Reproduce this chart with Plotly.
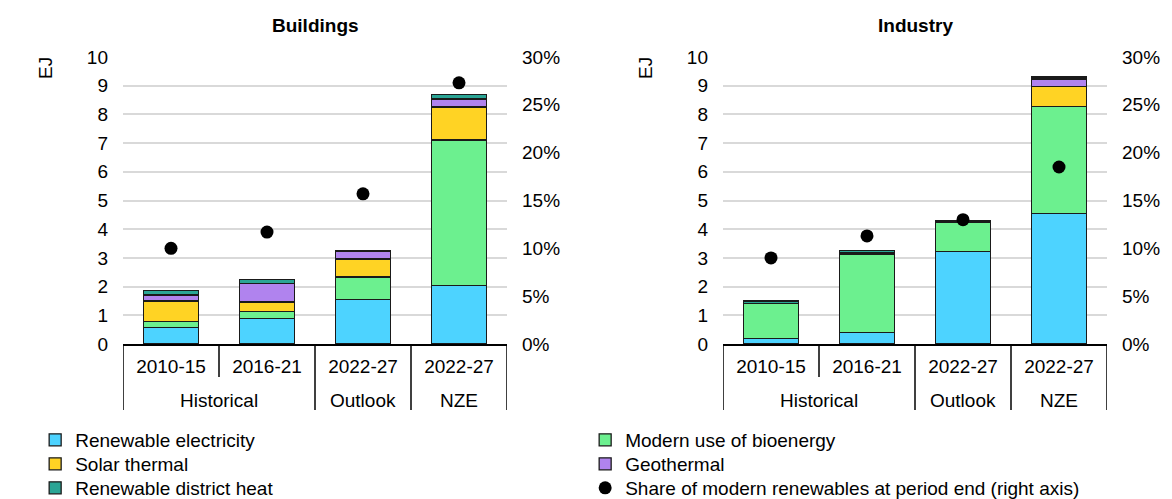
import plotly.graph_objects as go

# Period labels (inner level) and scenario groups (outer level)
periods = ["2010-15", "2016-21", "2022-27", "2022-27"]
groups = ["Historical", "Historical", "Outlook", "NZE"]

# Buildings, EJ added over each period
buildings_elec = [0.58, 0.90, 1.54, 2.05]
buildings_bio = [0.21, 0.23, 0.79, 5.06]
buildings_solar = [0.71, 0.33, 0.63, 1.15]
buildings_geo = [0.21, 0.65, 0.28, 0.28]
buildings_dh = [0.15, 0.14, 0.03, 0.15]
buildings_share = [0.100, 0.117, 0.157, 0.273]

# Industry, EJ added over each period
industry_elec = [0.19, 0.40, 3.22, 4.55]
industry_bio = [1.21, 2.74, 1.03, 3.72]
industry_solar = [0.00, 0.01, 0.02, 0.71]
industry_geo = [0.02, 0.02, 0.02, 0.25]
industry_dh = [0.08, 0.08, 0.02, 0.07]
industry_share = [0.090, 0.113, 0.130, 0.185]

series_names = [
    "Renewable electricity",
    "Modern use of bioenergy",
    "Solar thermal",
    "Geothermal",
    "Renewable district heat",
]
series_colors = ["#4dd3ff", "#6cf08f", "#ffd324", "#b083ee", "#2aa595"]
share_name = "Share of modern renewables at period end (right axis)"

# legend rows: two entries per row, in reading order
legend_of = {
    series_names[0]: "legend", series_names[1]: "legend",
    series_names[2]: "legend2", series_names[3]: "legend2",
    series_names[4]: "legend3", share_name: "legend3",
}

FONT = "Liberation Sans, Arial, sans-serif"
FS = 19
W, H = 1172, 499

idx = list(range(len(periods)))


def py(px):
    """pixel row (from top) -> paper fraction"""
    return 1 - px / H


fig = go.Figure()

panels = [
    ("x", "y", "y2", [buildings_elec, buildings_bio, buildings_solar, buildings_geo, buildings_dh], buildings_share, True),
    ("x2", "y3", "y4", [industry_elec, industry_bio, industry_solar, industry_geo, industry_dh], industry_share, False),
]

for xa, ya, ya_right, stacks, share, show in panels:
    for name, color, vals in zip(series_names, series_colors, stacks):
        fig.add_trace(go.Bar(
            x=idx, y=vals, name=name, xaxis=xa, yaxis=ya,
            marker=dict(color=color, line=dict(color="#1a1a1a", width=1.3)),
            showlegend=show, legend=legend_of[name],
        ))
    fig.add_trace(go.Scatter(
        x=idx, y=share, name=share_name, xaxis=xa, yaxis=ya_right,
        mode="markers", marker=dict(color="black", size=13),
        showlegend=show, legend=legend_of[share_name],
    ))

plot_left = {"x": 123, "x2": 723}
plot_w = 384
y_top, y_bot = 57, 344
ydom = [py(y_bot), py(y_top)]

xcommon = dict(
    range=[-0.5, len(periods) - 0.5], tickvals=idx, ticktext=periods,
    showline=True, linecolor="black", linewidth=1.5, ticks="",
    ticklabelstandoff=4, automargin=False, showgrid=False, zeroline=False,
    tickfont=dict(size=FS, color="black", family=FONT),
)
yleft = dict(
    range=[0, 10], dtick=1, showgrid=True, gridcolor="#d9d9d9", gridwidth=1.5,
    zeroline=False, tickfont=dict(size=FS, color="black", family=FONT),
    ticks="", ticklabelstandoff=14, domain=ydom, automargin=False,
)
yright = dict(
    range=[0, 0.30], dtick=0.05, tickformat=".0%", showgrid=False, zeroline=False,
    side="right", tickfont=dict(size=FS, color="black", family=FONT),
    ticks="", ticklabelstandoff=14, automargin=False,
)

legend_common = dict(
    orientation="h", xanchor="left", yanchor="middle",
    entrywidth=505, entrywidthmode="pixels", traceorder="normal",
    font=dict(size=FS, family=FONT, color="black"),
    itemwidth=30, bgcolor="rgba(0,0,0,0)",
)

fig.update_layout(
    width=W, height=H,
    margin=dict(l=0, r=0, t=0, b=0, autoexpand=False),
    paper_bgcolor="white", plot_bgcolor="white",
    barmode="stack", bargap=0.43,
    font=dict(family=FONT, size=FS, color="black"),
    xaxis=dict(domain=[plot_left["x"] / W, (plot_left["x"] + plot_w) / W], anchor="y", **xcommon),
    xaxis2=dict(domain=[plot_left["x2"] / W, (plot_left["x2"] + plot_w) / W], anchor="y3", **xcommon),
    yaxis=dict(anchor="x", **yleft),
    yaxis2=dict(anchor="x", overlaying="y", **yright),
    yaxis3=dict(anchor="x2", **yleft),
    yaxis4=dict(anchor="x2", overlaying="y3", **yright),
    legend=dict(x=0.03, y=py(440), **legend_common),
    legend2=dict(x=0.03, y=py(464), **legend_common),
    legend3=dict(x=0.03, y=py(488), **legend_common),
    showlegend=True,
)

# category frame below each panel: short ticks between periods, long ones between groups
for xa in ["x", "x2"]:
    for i in range(len(periods) + 1):
        outer = i == 0 or i == len(periods) or groups[i] != groups[i - 1]
        bottom = 410 if outer else 377
        fig.add_shape(
            type="line", xref=xa, yref="paper", x0=i - 0.5, x1=i - 0.5,
            y0=py(y_bot), y1=py(bottom), line=dict(color="black", width=1.5),
        )
    # group names centred beneath their periods
    seen = []
    for g in groups:
        if g not in seen:
            seen.append(g)
    for g in seen:
        members = [i for i, gg in enumerate(groups) if gg == g]
        fig.add_annotation(
            text=g, x=sum(members) / len(members), xref=xa, y=py(400), yref="paper",
            showarrow=False, font=dict(size=FS, family=FONT, color="black"),
            xanchor="center", yanchor="middle",
        )

for title, xa in [("Buildings", "x"), ("Industry", "x2")]:
    fig.add_annotation(
        text="<b>%s</b>" % title, x=0.5, xref=xa + " domain", y=py(25), yref="paper",
        showarrow=False, font=dict(size=FS, family=FONT, color="black"),
        xanchor="center", yanchor="middle",
    )
for ex in [45, 645]:
    fig.add_annotation(
        text="EJ", x=ex / W, y=py(68), xref="paper", yref="paper",
        showarrow=False, textangle=-90, font=dict(size=FS, family=FONT, color="black"),
        xanchor="center", yanchor="middle",
    )

fig.write_html("out.html")
